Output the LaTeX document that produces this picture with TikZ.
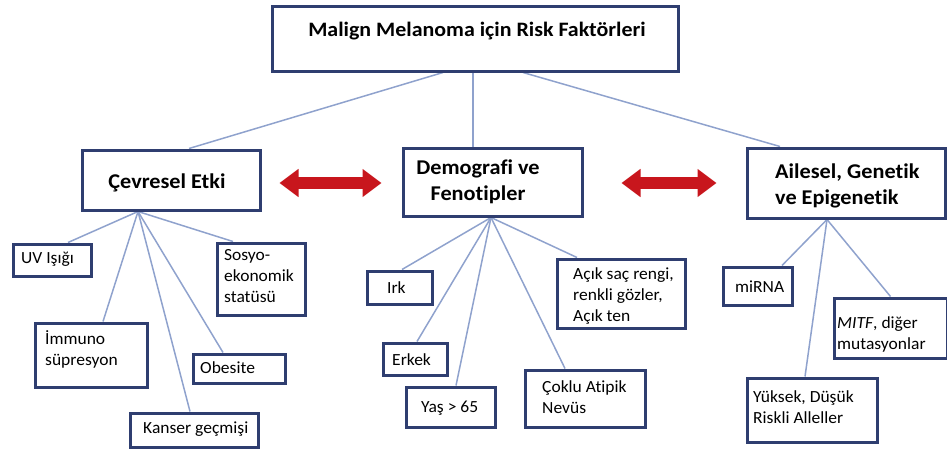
\documentclass[tikz,border=0pt]{standalone}
\usepackage{fontspec}
\setmainfont[Ligatures=CommonOff,FakeStretch=1.03]{Carlito}
\newfontfamily\headfont[Ligatures=CommonOff,FakeStretch=1.06]{Carlito}
\newfontfamily\rootfont[Ligatures=CommonOff,FakeStretch=1.07]{Carlito}
\usetikzlibrary{arrows.meta,backgrounds}
\definecolor{navy}{RGB}{47,62,112}
\definecolor{conncol}{RGB}{143,162,205}
\definecolor{redarr}{RGB}{200,22,29}
\newcommand{\tleft}[1]{\begin{tabular}[t]{@{}l@{}}#1\end{tabular}}
\newcommand{\tcent}[1]{\begin{tabular}[t]{@{}c@{}}#1\end{tabular}}
\begin{document}
\begin{tikzpicture}[x=1pt,y=-1pt,
  box/.style={draw=navy, line width=3pt, fill=white, inner sep=0pt},
  lbl/.style={anchor=base west, inner sep=0pt, font=\fontsize{17}{21}\selectfont},
  hlbl/.style={anchor=base, inner sep=0pt, font=\headfont\bfseries\fontsize{21}{26}\selectfont},
  hlblw/.style={anchor=base west, inner sep=0pt, font=\headfont\bfseries\fontsize{21}{26}\selectfont},
  link/.style={draw=conncol, line width=1.5pt},
  redarrow/.style={draw=redarr, line width=12pt,
    {Triangle[length=19pt,width=27pt]}-{Triangle[length=19pt,width=27pt]}}]
\useasboundingbox (0,0) rectangle (947,450);
% main boxes
\node[box, minimum width=406pt, minimum height=65pt] (root) at (475,38.5) {};
\node[box, minimum width=178pt, minimum height=60pt] (cev) at (171,180) {};
\node[box, minimum width=179pt, minimum height=68pt] (demo) at (492.5,182) {};
\node[box, minimum width=198pt, minimum height=70pt] (ail) at (846,183) {};
% children
\node[box, minimum width=78pt, minimum height=32pt] (uv) at (52,260) {};
\node[box, minimum width=112pt, minimum height=64pt] (imm) at (91,355) {};
\node[box, minimum width=128pt, minimum height=34pt] (kan) at (194,430) {};
\node[box, minimum width=92pt, minimum height=29pt] (obe) at (239,368.5) {};
\node[box, minimum width=88pt, minimum height=72pt] (sos) at (261,279) {};
\node[box, minimum width=65pt, minimum height=33pt] (irk) at (399.5,287.5) {};
\node[box, minimum width=64pt, minimum height=32pt] (erk) at (415,359) {};
\node[box, minimum width=89pt, minimum height=40pt] (yas) at (450.5,407) {};
\node[box, minimum width=120pt, minimum height=57pt] (cok) at (585,398.5) {};
\node[box, minimum width=128pt, minimum height=69pt] (acik) at (621,293.5) {};
\node[box, minimum width=69pt, minimum height=38pt] (mirna) at (757.5,286) {};
\node[box, minimum width=113pt, minimum height=60pt] (mitf) at (890.5,328) {};
\node[box, minimum width=130pt, minimum height=64pt] (yuk) at (812,410) {};
% texts
\node[hlbl, font=\rootfont\bfseries\fontsize{20.5}{25}\selectfont] (root-t) at (477,36) {Malign Melanoma için Risk Faktörleri};
\node[hlbl] (cev-t) at (167,188) {Çevresel Etki};
\node[hlbl] (demo-t) at (478,174) {\tcent{Demografi ve\\Fenotipler}};
\node[hlblw] (ail-t) at (775,178) {\tleft{Ailesel, Genetik\\ve Epigenetik}};
\node[lbl] (uv-t) at (21,263) {UV Işığı};
\node[lbl] (imm-t) at (45,344) {\tleft{İmmuno\\süpresyon}};
\node[lbl] (kan-t) at (143,433) {Kanser geçmişi};
\node[lbl] (obe-t) at (200,373) {Obesite};
\node[lbl] (sos-t) at (224,260) {\tleft{Sosyo-\\ekonomik\\statüsü}};
\node[lbl] (irk-t) at (387,293) {Irk};
\node[lbl] (erk-t) at (392,365) {Erkek};
\node[lbl] (yas-t) at (421,412) {Yaş > 65};
\node[lbl] (cok-t) at (542,392) {\tleft{Çoklu Atipik\\Nevüs}};
\node[lbl] (acik-t) at (573,279) {\tleft{Açık saç rengi,\\renkli gözler,\\Açık ten}};
\node[lbl] (mirna-t) at (735,292) {miRNA};
\node[lbl] (mitf-t) at (837,328) {\tleft{\textit{MITF}, diğer\\mutasyonlar}};
\node[lbl] (yuk-t) at (753,402) {\tleft{Yüksek, Düşük\\Riskli Alleller}};
% connectors
\begin{scope}[on background layer]
\draw[link] ([xshift=-32pt]root.south) -- ([xshift=18pt]cev.north);
\draw[link] ([xshift=-2pt]root.south) -- ([xshift=-19.5pt]demo.north);
\draw[link] ([xshift=48pt]root.south) -- ([xshift=-66pt]ail.north);
\coordinate (cevf) at ([xshift=-33pt]cev.south);
\draw[link] (cevf) -- ([xshift=16pt]uv.north);
\draw[link] (cevf) -- ([xshift=12pt]imm.north);
\draw[link] (cevf) -- ([xshift=-4pt]kan.north);
\draw[link] (cevf) -- ([xshift=-16pt]obe.north);
\draw[link] (cevf) -- ([xshift=-28pt]sos.north);
\coordinate (demof) at ([xshift=-1.5pt]demo.south);
\draw[link] (demof) -- ([xshift=2.5pt]irk.north);
\draw[link] (demof) -- ([xshift=2pt]erk.north);
\draw[link] (demof) -- ([xshift=5.5pt]yas.north);
\draw[link] (demof) -- ([xshift=-20pt]cok.north);
\draw[link] (demof) -- ([xshift=-44pt]acik.north);
\coordinate (ailf) at ([xshift=-19pt]ail.south);
\draw[link] (ailf) -- ([xshift=24.5pt]mirna.north);
\draw[link] (ailf) -- ([xshift=-7pt]yuk.north);
\draw[link] (ailf) -- (mitf.north);
\end{scope}
% red double arrows
\coordinate (a1s) at ([xshift=18pt,yshift=-3pt]cev.east);
\coordinate (a1d) at (a1s -| demo.west);
\coordinate (a1e) at ([xshift=-20pt]a1d);
\draw[redarrow] (a1s) -- (a1e);
\coordinate (a2s) at ([xshift=38pt,yshift=-1pt]demo.east);
\coordinate (a2d) at (a2s -| ail.west);
\coordinate (a2e) at ([xshift=-29pt]a2d);
\draw[redarrow] (a2s) -- (a2e);
\end{tikzpicture}
\end{document}
